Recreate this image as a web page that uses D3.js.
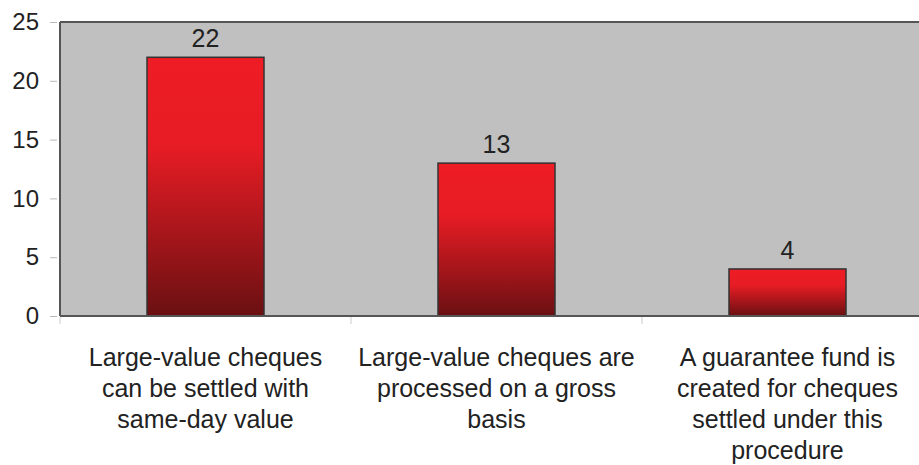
<!DOCTYPE html>
<html><head><meta charset="utf-8">
<script src="https://cdn.jsdelivr.net/npm/d3@7"></script>
<style>body{margin:0;background:#fff}svg{display:block}text{font-family:"Liberation Sans",Arial,sans-serif;fill:#222}</style>
</head><body>
<svg id="c" width="919" height="465"></svg>
<script>
const categories = [
  ["Large-value cheques","can be settled with","same-day value"],
  ["Large-value cheques are","processed on a gross","basis"],
  ["A guarantee fund is","created for cheques","settled under this","procedure"]
];
const values = [22, 13, 4];
const yTicks = [0, 5, 10, 15, 20, 25];

const svg = d3.select("#c");
const mLeft = 60, mTop = 22, mBottom = 316, plotW = 873;
const x = d3.scaleBand().domain(d3.range(values.length)).range([mLeft, mLeft + plotW]).paddingInner(0).paddingOuter(0);
const y = d3.scaleLinear().domain([0, 25]).range([mBottom, mTop]);

const defs = svg.append("defs");
const g = defs.append("linearGradient").attr("id","bg").attr("x1",0).attr("y1",0).attr("x2",0).attr("y2",1);
g.append("stop").attr("offset","0").attr("stop-color","#ee1c25");
g.append("stop").attr("offset","0.35").attr("stop-color","#e61c24");
g.append("stop").attr("offset","1").attr("stop-color","#6a1012");

svg.append("rect").attr("x", mLeft).attr("y", mTop).attr("width", plotW).attr("height", mBottom - mTop)
  .attr("fill", "#c0c0c0");
svg.append("line").attr("x1", mLeft).attr("x2", mLeft + plotW).attr("y1", mTop).attr("y2", mTop).attr("stroke","#555").attr("stroke-width",2);
svg.append("line").attr("x1", mLeft).attr("x2", mLeft).attr("y1", mTop).attr("y2", mBottom).attr("stroke","#555").attr("stroke-width",2);

const ya = svg.append("g").attr("transform", `translate(${mLeft},0)`)
  .call(d3.axisLeft(y).tickValues(yTicks).tickSize(8).tickPadding(6));
ya.select(".domain").remove();
ya.selectAll(".tick line").attr("stroke","#bbb").attr("x2",-3).attr("x1",-10);
ya.selectAll(".tick text").attr("font-size",24).attr("fill","#222").attr("font-family","Liberation Sans, Arial, sans-serif").attr("x",-21);

const bw = 117;
svg.selectAll("rect.bar").data(values).enter().append("rect").attr("class","bar")
  .attr("x", (d,i) => x(i) + x.bandwidth()/2 - bw/2)
  .attr("y", d => y(d)).attr("width", bw).attr("height", d => y(0) - y(d))
  .attr("fill","url(#bg)").attr("stroke","#333").attr("stroke-width",1.5);

svg.append("line").attr("x1", mLeft).attr("x2", mLeft + plotW).attr("y1", mBottom).attr("y2", mBottom).attr("stroke","#555").attr("stroke-width",2);
svg.selectAll("line.ct").data(d3.range(values.length + 1)).enter().append("line").attr("class","ct")
  .attr("x1", i => mLeft + i * x.bandwidth()).attr("x2", i => mLeft + i * x.bandwidth())
  .attr("y1", mBottom + 1).attr("y2", mBottom + 8).attr("stroke","#ccc");

svg.selectAll("text.vl").data(values).enter().append("text").attr("class","vl")
  .attr("x", (d,i) => x(i) + x.bandwidth()/2).attr("y", d => y(d) - 10)
  .attr("text-anchor","middle").attr("font-size",25).text(d => d);

categories.forEach((lines, i) => {
  const t = svg.append("text").attr("text-anchor","middle").attr("font-size",25)
    .attr("x", x(i) + x.bandwidth()/2).attr("y", 366);
  lines.forEach((l, j) => t.append("tspan").attr("x", x(i) + x.bandwidth()/2).attr("dy", j ? 31 : 0).text(l));
});
</script>
</body></html>
